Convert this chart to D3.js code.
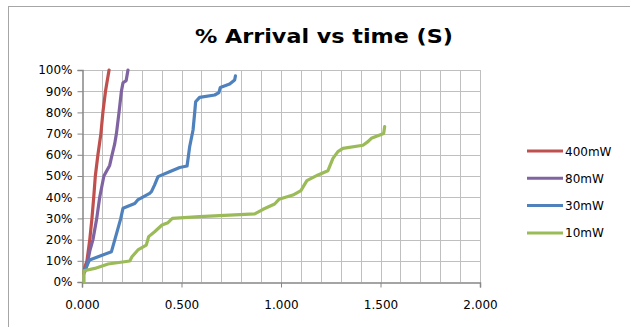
<!DOCTYPE html>
<html>
<head>
<meta charset="utf-8">
<script src="https://cdn.jsdelivr.net/npm/d3@7"></script>
<style>
  html, body { margin: 0; padding: 0; background: #fff; }
  svg { display: block; }
</style>
</head>
<body>
<div id="chart"></div>
<script>
// ━━━━━━━━━━━━━━━━━━━━━━━━━━━━━━━━━━━━━━━━━━━━━━━━━━━━━━━━━━━━━━━━━━━━━━━━━━━━━━━━━━━━
// Data: tiempo (s) y % de llegada, por potencia
// ━━━━━━━━━━━━━━━━━━━━━━━━━━━━━━━━━━━━━━━━━━━━━━━━━━━━━━━━━━━━━━━━━━━━━━━━━━━━━━━━━━━━

const seriesNames = ['400mW', '80mW', '30mW', '10mW'];

const t400 = [0.010, 0.014, 0.025, 0.039, 0.050, 0.059, 0.067, 0.080, 0.095, 0.105, 0.118, 0.136];
const p400 = [4, 7, 10, 20, 30, 40, 50, 60, 70, 80, 90, 100];

const t80 = [0.015, 0.025, 0.040, 0.055, 0.074, 0.089, 0.110, 0.139, 0.151, 0.164, 0.173, 0.186, 0.198, 0.206, 0.222, 0.231];
const p80 = [5, 8, 15, 20, 30, 40, 50, 55, 60, 65, 70, 80, 90, 94, 95, 100];

const t30 = [0.012, 0.038, 0.148, 0.165, 0.195, 0.206, 0.265, 0.280, 0.340, 0.349, 0.365, 0.382, 0.440, 0.491, 0.528, 0.541, 0.558, 0.566, 0.571, 0.591, 0.667, 0.688, 0.695, 0.742, 0.767, 0.771];
const p30 = [5, 10.4, 14.3, 20, 30, 34.8, 37, 38.7, 41.8, 42.6, 45.8, 49.7, 52, 54, 54.7, 63.8, 71.7, 79.6, 85, 87.1, 88.2, 89.3, 91.8, 93.4, 95.3, 97.2];

const t10 = [0.010, 0.010, 0.064, 0.131, 0.240, 0.251, 0.281, 0.323, 0.335, 0.365, 0.402, 0.432, 0.454, 0.591, 0.843, 0.868, 0.910, 0.968, 0.990, 1.060, 1.100, 1.130, 1.186, 1.236, 1.261, 1.286, 1.311, 1.412, 1.437, 1.454, 1.516, 1.521];
const p10 = [0, 5.3, 6.4, 8.5, 9.9, 11.9, 15.1, 17.4, 21.4, 23.7, 26.9, 28, 30, 30.8, 32, 32.1, 34.3, 36.8, 39, 41, 43.1, 47.8, 50.5, 52.5, 58.3, 61.5, 63, 64.5, 66.2, 67.8, 70.1, 73.3];

const xTicks = [0, 0.5, 1.0, 1.5, 2.0];
const xGrid = d3.range(0, 21).map(i => i / 10);
const yTicks = d3.range(0, 11).map(i => i * 10);

// ━━━━━━━━━━━━━━━━━━━━━━━━━━━━━━━━━━━━━━━━━━━━━━━━━━━━━━━━━━━━━━━━━━━━━━━━━━━━━━━━━━━━
// SVG setup
// ━━━━━━━━━━━━━━━━━━━━━━━━━━━━━━━━━━━━━━━━━━━━━━━━━━━━━━━━━━━━━━━━━━━━━━━━━━━━━━━━━━━━

const width = 630;
const height = 327;
const colors = ['#C0504D', '#8064A2', '#4F81BD', '#9BBB59'];
const font = 'DejaVu Sans, sans-serif';

const svg = d3.select('#chart').append('svg')
  .attr('width', width)
  .attr('height', height)
  .attr('viewBox', [0, 0, width, height]);

// marco exterior del gráfico (se corta a la derecha y abajo)
svg.append('rect')
  .attr('x', 8.5).attr('y', 6.5)
  .attr('width', 700).attr('height', 400)
  .attr('fill', '#fff')
  .attr('stroke', '#a6a6a6');

const x = d3.scaleLinear().domain([0, 2]).range([82, 480]);
const y = d3.scaleLinear().domain([0, 100]).range([282, 70]);

// Grid
const grid = svg.append('g').attr('id', 'grid');
grid.selectAll('line.v')
  .data(xGrid.slice(1))
  .join('line')
  .attr('x1', d => Math.round(x(d)) + 0.5).attr('x2', d => Math.round(x(d)) + 0.5)
  .attr('y1', y(100)).attr('y2', y(0))
  .attr('stroke', '#bfbfbf');
grid.selectAll('line.h')
  .data(yTicks.slice(1))
  .join('line')
  .attr('x1', x(0)).attr('x2', x(2))
  .attr('y1', d => Math.round(y(d)) + 0.5).attr('y2', d => Math.round(y(d)) + 0.5)
  .attr('stroke', '#bfbfbf');

// Axes
const xAxis = svg.append('g')
  .attr('transform', `translate(0,${Math.round(y(0)) + 0.5})`)
  .call(d3.axisBottom(x).tickValues(xTicks).tickFormat(d3.format('.3f')).tickSize(5).tickPadding(13));
const yAxis = svg.append('g')
  .attr('transform', `translate(${Math.round(x(0)) + 0.5},0)`)
  .call(d3.axisLeft(y).tickValues(yTicks).tickFormat(d => d + '%').tickSize(5).tickPadding(5));

[xAxis, yAxis].forEach(a => {
  a.select('.domain').attr('stroke', '#868686').attr('stroke-width', 1.5);
  a.selectAll('.tick line').attr('stroke', '#868686');
  a.selectAll('text').attr('font-family', font).attr('font-size', 12).attr('fill', '#000');
});

// Series
const line = d3.line().x(d => x(d[0])).y(d => y(d[1]));
const allSeries = [[t400, p400], [t80, p80], [t30, p30], [t10, p10]];

svg.append('g').attr('id', 'series')
  .selectAll('path')
  .data(allSeries)
  .join('path')
  .attr('d', d => line(d3.zip(d[0], d[1])))
  .attr('fill', 'none')
  .attr('stroke', (d, i) => colors[i])
  .attr('stroke-width', 3.2)
  .attr('stroke-linejoin', 'round')
  .attr('stroke-linecap', 'round');

// Title
svg.append('text')
  .attr('x', 324).attr('y', 43)
  .attr('text-anchor', 'middle')
  .attr('font-family', font)
  .attr('font-weight', 'bold')
  .attr('font-size', 19)
  .attr('textLength', 258)
  .attr('lengthAdjust', 'spacingAndGlyphs')
  .text('% Arrival vs time (S)');

// Legend
const legend = svg.append('g').attr('id', 'legend');
const rows = legend.selectAll('g')
  .data(seriesNames)
  .join('g')
  .attr('transform', (d, i) => `translate(527,${151 + i * 27.3})`);
rows.append('line')
  .attr('x1', 0).attr('x2', 36)
  .attr('stroke', (d, i) => colors[i])
  .attr('stroke-width', 3);
rows.append('text')
  .attr('x', 38).attr('y', 4.5)
  .attr('font-family', font)
  .attr('font-size', 12)
  .text(d => d);
</script>
</body>
</html>
